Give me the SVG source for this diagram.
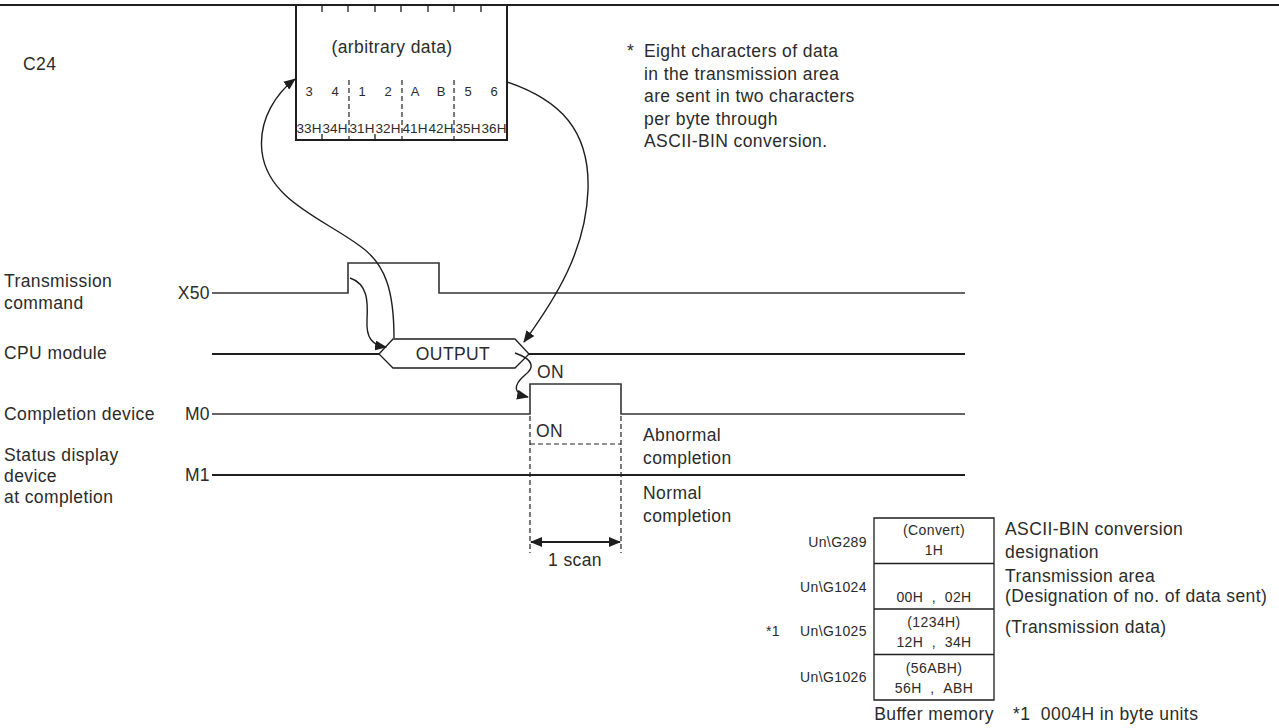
<svg xmlns="http://www.w3.org/2000/svg" width="1279" height="728" viewBox="0 0 1279 728">
<style>
text{font-family:"Liberation Sans",Arial,sans-serif;fill:#2b2b2b}
.t{font-size:17.5px;letter-spacing:0.4px}
.s{font-size:14px;letter-spacing:0.4px}
.d{font-size:13px}
.h{font-size:13.5px}
.ln{stroke:#1e1e1e;stroke-width:2;fill:none}
.lg{stroke:#333;stroke-width:1.6;fill:none}
.th{stroke:#1e1e1e;stroke-width:1.3;fill:none}
.ds{stroke:#222;stroke-width:1.2;fill:none;stroke-dasharray:5,3}
.c{stroke:#1e1e1e;stroke-width:1.4;fill:none}
.m{text-anchor:middle}
.e{text-anchor:end}
</style>
<defs>
<marker id="ah" viewBox="0 0 12 10" refX="11" refY="5" markerWidth="12" markerHeight="10" markerUnits="userSpaceOnUse" orient="auto-start-reverse">
<path d="M0,0 L12,5 L0,10 Z" fill="#1e1e1e"/>
</marker>
</defs>

<g id="top-rule"><line class="ln" x1="0" y1="5" x2="1279" y2="5"/></g>

<g id="c24-label"><text class="t" x="23" y="70">C24</text></g>

<g id="data-box">
<path class="ln" d="M296,5 V140 H507 V5"/>
<path class="th" d="M322,5 V12 M348,5 V12 M375,5 V12 M401,5 V12 M428,5 V12 M454,5 V12 M481,5 V12 M322,134 V140 M375,134 V140"/>
<path class="ds" d="M349,80 V140 M402,80 V140 M454,80 V140"/>
<text class="t m" x="392" y="53">(arbitrary data)</text>
<text class="d m" x="309" y="96">3</text><text class="d m" x="335" y="96">4</text>
<text class="d m" x="362" y="96">1</text><text class="d m" x="388" y="96">2</text>
<text class="d m" x="415" y="96">A</text><text class="d m" x="441" y="96">B</text>
<text class="d m" x="468" y="96">5</text><text class="d m" x="494" y="96">6</text>
<text class="h m" x="309" y="133">33H</text><text class="h m" x="335" y="133">34H</text>
<text class="h m" x="362" y="133">31H</text><text class="h m" x="388" y="133">32H</text>
<text class="h m" x="415" y="133">41H</text><text class="h m" x="441" y="133">42H</text>
<text class="h m" x="468" y="133">35H</text><text class="h m" x="494" y="133">36H</text>
</g>

<g id="note">
<text class="t" x="627" y="57">*</text>
<text class="t" x="644" y="57">Eight characters of data</text>
<text class="t" x="644" y="80">in the transmission area</text>
<text class="t" x="644" y="102">are sent in two characters</text>
<text class="t" x="644" y="125">per byte through</text>
<text class="t" x="644" y="147">ASCII-BIN conversion.</text>
</g>

<g id="labels">
<text class="t" x="4" y="287">Transmission</text>
<text class="t" x="4" y="309">command</text>
<text class="t" x="4" y="359">CPU module</text>
<text class="t" x="4" y="420">Completion device</text>
<text class="t" x="4" y="461">Status display</text>
<text class="t" x="4" y="482">device</text>
<text class="t" x="4" y="503">at completion</text>
<text class="t e" x="210" y="299">X50</text>
<text class="t e" x="210" y="420">M0</text>
<text class="t e" x="210" y="481">M1</text>
</g>

<g id="x50-signal"><path class="lg" d="M212,293 H348 V263 H439 V293 H965"/></g>

<g id="cpu-signal">
<path class="ln" d="M212,354 H379 M529,354 H965"/>
<polygon class="th" points="379,354 393,339 515,339 529,354 515,368 393,368" fill="#fff"/>
<text class="t m" x="453" y="360">OUTPUT</text>
<text class="t" x="537" y="378">ON</text>
</g>

<g id="m0-signal"><path class="lg" d="M212,414 H530 V384 H621 V414 H965"/></g>

<g id="m1-signal">
<path class="ln" d="M212,475 H965"/>
<path class="ds" d="M530,416 V553 M621,416 V553 M530,444 H621"/>
<text class="t" x="536" y="437">ON</text>
<text class="t" x="643" y="441">Abnormal</text>
<text class="t" x="643" y="464">completion</text>
<text class="t" x="643" y="499">Normal</text>
<text class="t" x="643" y="522">completion</text>
<text class="t m" x="575" y="566">1 scan</text>
</g>

<g id="connectors">
<path class="c" d="M394,338 C394,292 386,264 360,246 C322,218 268,200 262,152 C258,118 278,92 295,79" marker-end="url(#ah)"/>
<path class="c" d="M507,82 C560,100 590,130 588,190 C586,250 556,298 524,342" marker-end="url(#ah)"/>
<path class="c" d="M350,278 C368,284 368,302 367,320 C366,338 372,345 386,347" marker-end="url(#ah)"/>
<path class="c" d="M515,353 C535,360 534,368 525,375 C512,386 514,394 528,397" marker-end="url(#ah)"/>
<path class="ln" d="M531,542 H620" marker-start="url(#ah)" marker-end="url(#ah)"/>
</g>

<g id="buffer-memory">
<path class="th" d="M874,518 H994 V700 H874 Z M874,563.5 H994 M874,609 H994 M874,654.5 H994"/>
<text class="s m" x="934" y="535">(Convert)</text>
<text class="s m" x="934" y="555">1H</text>
<text class="s m" x="934" y="602">00H&#160;&#160;,&#160;&#160;02H</text>
<text class="s m" x="934" y="627">(1234H)</text>
<text class="s m" x="934" y="647">12H&#160;&#160;,&#160;&#160;34H</text>
<text class="s m" x="934" y="673">(56ABH)</text>
<text class="s m" x="934" y="693">56H&#160;&#160;,&#160;&#160;ABH</text>
<text class="s e" x="867" y="547">Un\G289</text>
<text class="s e" x="867" y="592">Un\G1024</text>
<text class="s e" x="867" y="636">Un\G1025</text>
<text class="s" x="766" y="636">*1</text>
<text class="s e" x="867" y="682">Un\G1026</text>
<text class="t" x="1005" y="535">ASCII-BIN conversion</text>
<text class="t" x="1005" y="558">designation</text>
<text class="t" x="1005" y="582">Transmission area</text>
<text class="t" x="1005" y="602">(Designation of no. of data sent)</text>
<text class="t" x="1005" y="633">(Transmission data)</text>
<text class="t m" x="934" y="720">Buffer memory</text>
<text class="t" x="1013" y="720">*1&#160;&#160;0004H in byte units</text>
</g>
</svg>
